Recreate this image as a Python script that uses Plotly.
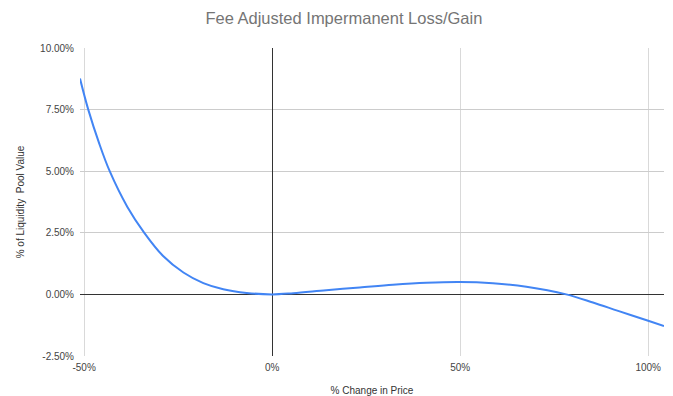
import plotly.graph_objects as go

# Price change (%) and fee-adjusted impermanent loss/gain (% of pool value)
price_change = [-51.1, -48.9, -46.0, -43.2, -38.5, -34.0, -29.0, -23.6, -18.3,
                -13.0, -6.8, 0.0, 5.6, 14.4, 23.3, 32.1, 41.0, 49.9, 58.7,
                67.6, 78.2, 85.3, 92.0, 100.0, 104.2]
pool_value = [8.76, 7.50, 6.13, 5.00, 3.55, 2.50, 1.56, 0.89, 0.46,
              0.21, 0.06, 0.00, 0.05, 0.17, 0.28, 0.39, 0.47, 0.50, 0.45,
              0.31, 0.00, -0.33, -0.67, -1.07, -1.28]

x_ticks = [-50, 0, 50, 100]
y_ticks = [-2.5, 0, 2.5, 5, 7.5, 10]

font_family = "Liberation Sans, Arial, sans-serif"

fig = go.Figure(
    go.Scatter(
        x=price_change,
        y=pool_value,
        mode="lines",
        line=dict(color="#4285F4", width=2, shape="spline", smoothing=1.0),
        showlegend=False,
    )
)

fig.update_layout(
    width=673,
    height=396,
    margin=dict(l=80, r=9, t=48, b=40),
    paper_bgcolor="white",
    plot_bgcolor="white",
    font=dict(family=font_family, size=10, color="#444444"),
    title=dict(
        text="Fee Adjusted Impermanent Loss/Gain",
        x=0.511,
        xanchor="center",
        y=0.955,
        yanchor="middle",
        font=dict(family=font_family, size=16.5, color="#757575"),
    ),
)

fig.update_xaxes(
    range=[-51.1, 104.2],
    tickvals=x_ticks,
    ticktext=[f"{v}%" for v in x_ticks],
    showgrid=True,
    gridcolor="#d9d9d9",
    gridwidth=1,
    zeroline=True,
    zerolinecolor="#333333",
    zerolinewidth=1,
    showline=False,
    ticks="",
    ticklabelstandoff=4,
    tickfont=dict(size=10, color="#444444"),
    automargin=False,
    title=dict(text="% Change in Price", standoff=19,
               font=dict(size=10, color="#333333")),
)

fig.update_yaxes(
    range=[-2.5, 10],
    tickvals=y_ticks,
    ticktext=[f"{v:.2f}%" for v in y_ticks],
    showgrid=True,
    gridcolor="#cccccc",
    gridwidth=1,
    zeroline=True,
    zerolinecolor="#333333",
    zerolinewidth=1,
    showline=False,
    ticks="",
    ticklabelstandoff=5,
    tickfont=dict(size=10, color="#444444"),
    automargin=False,
    title=dict(text="% of Liquidity  Pool Value", standoff=13,
               font=dict(size=10, color="#333333")),
)

fig.write_html("out.html")
